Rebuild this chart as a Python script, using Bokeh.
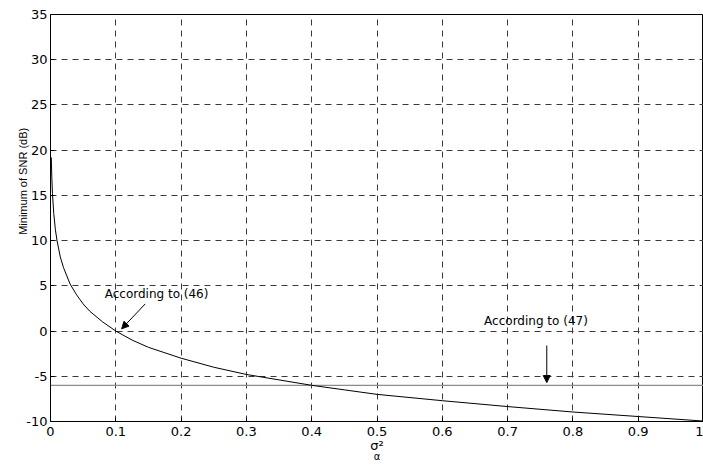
from bokeh.plotting import figure
from bokeh.models import FixedTicker, Label, Arrow, NormalHead, Range1d, LinearAxis
from bokeh.embed import file_html
from bokeh.resources import INLINE

# ---- data ----
sigma2 = [0.0012, 0.002, 0.003, 0.005, 0.0075, 0.01, 0.015, 0.02, 0.03, 0.04,
          0.05, 0.06, 0.08, 0.1, 0.125, 0.15, 0.2, 0.25, 0.3, 0.35, 0.4, 0.45,
          0.5, 0.6, 0.7, 0.8, 0.9, 1.0]
snr_min_46 = [19.2, 17.0, 15.2, 13.0, 11.2, 10.0, 8.2, 7.0, 5.2, 4.0,
              3.0, 2.2, 1.0, 0.0, -1.0, -1.8, -3.0, -4.0, -4.8, -5.4, -6.0, -6.5,
              -7.0, -7.7, -8.35, -8.95, -9.45, -9.95]
bound_x = [0.0, 1.0]
bound_47 = [-6.0, -6.0]

xticks = [0.0, 0.1, 0.2, 0.3, 0.4, 0.5, 0.6, 0.7, 0.8, 0.9, 1.0]
xtick_labels = ["0", "0.1", "0.2", "0.3", "0.4", "0.5", "0.6", "0.7", "0.8", "0.9", "1"]
yticks = [-10, -5, 0, 5, 10, 15, 20, 25, 30, 35]
ytick_labels = ["-10", "-5", "0", "5", "10", "15", "20", "25", "30", "35"]

ann_texts = ["According to (46)", "According to (47)"]
ann_text_pos = [(0.083, 4.1), (0.664, 1.15)]
ann_arrows = [((0.145, 3.0), (0.109, 0.25)), ((0.76, -1.6), (0.76, -5.7))]

FONT = "DejaVu Sans"

p = figure(output_backend="svg", toolbar_location=None,
           x_range=Range1d(0, 1), y_range=Range1d(-10, 35),
           min_border_left=50, min_border_right=0, min_border_top=14,
           min_border_bottom=43)
p.frame_width = 653
p.frame_height = 407
p.background_fill_color = "white"
p.border_fill_color = "white"
p.outline_line_color = "black"
p.outline_line_width = 1

# grid
for g in (p.xgrid, p.ygrid):
    g.grid_line_color = "#3a3a3a"
    g.grid_line_dash = "6 5"
    g.grid_line_width = 1
p.xgrid.ticker = FixedTicker(ticks=xticks)
p.ygrid.ticker = FixedTicker(ticks=yticks)

# axes
p.xaxis.ticker = FixedTicker(ticks=xticks)
p.yaxis.ticker = FixedTicker(ticks=yticks)
p.xaxis.major_label_overrides = dict(zip(xticks, xtick_labels))
p.yaxis.major_label_overrides = dict(zip(yticks, ytick_labels))
for ax in (p.xaxis, p.yaxis):
    ax.axis_line_color = "black"
    ax.major_tick_in = 4
    ax.major_tick_out = 0
    ax.minor_tick_line_color = None
    ax.major_tick_line_color = "black"
    ax.major_label_text_font = FONT
    ax.major_label_text_font_size = "13px"
    ax.major_label_text_color = "black"
p.xaxis.major_label_standoff = 5
p.yaxis.major_label_standoff = 3

# y label (leading no-break spaces shift it upward as in the reference)
p.yaxis.axis_label = "\u00a0" * 24 + "Minimum of SNR (dB)"
p.yaxis.axis_label_text_font = "Liberation Sans"
p.yaxis.axis_label_text_font_size = "11px"
p.yaxis.axis_label_text_font_style = "normal"
p.yaxis.axis_label_text_color = "black"
p.yaxis.axis_label_standoff = -6

# x label: sigma with superscript 2, subscript alpha on a second (blank) axis
p.xaxis.axis_label = "σ²"
p.xaxis.axis_label_text_font = FONT
p.xaxis.axis_label_text_font_size = "13px"
p.xaxis.axis_label_text_font_style = "normal"
p.xaxis.axis_label_text_color = "black"
p.xaxis.axis_label_standoff = -1

sub_axis = LinearAxis(ticker=FixedTicker(ticks=[]), axis_line_color=None,
                      major_tick_line_color=None, minor_tick_line_color=None,
                      major_label_text_font_size="0px", major_label_standoff=0,
                      major_tick_in=0, major_tick_out=0,
                      axis_label="α", axis_label_text_font=FONT,
                      axis_label_text_font_size="10px",
                      axis_label_text_font_style="normal",
                      axis_label_text_color="black", axis_label_standoff=-5)
p.add_layout(sub_axis, "below")

# lines
p.line(bound_x, bound_47, line_color="#8c8c8c", line_width=1.2)
p.line(sigma2, snr_min_46, line_color="black", line_width=1)

# annotations
for t, (tx, ty) in zip(ann_texts, ann_text_pos):
    p.add_layout(Label(x=tx, y=ty, text=t, text_font=FONT, text_font_size="12px",
                       text_align="left", text_baseline="middle", text_color="black"))
for (s, e) in ann_arrows:
    p.add_layout(Arrow(end=NormalHead(size=7, fill_color="black", line_color="black"),
                       x_start=s[0], y_start=s[1], x_end=e[0], y_end=e[1],
                       line_color="black", line_width=1))

open("out.html", "w").write(file_html(p, INLINE))
